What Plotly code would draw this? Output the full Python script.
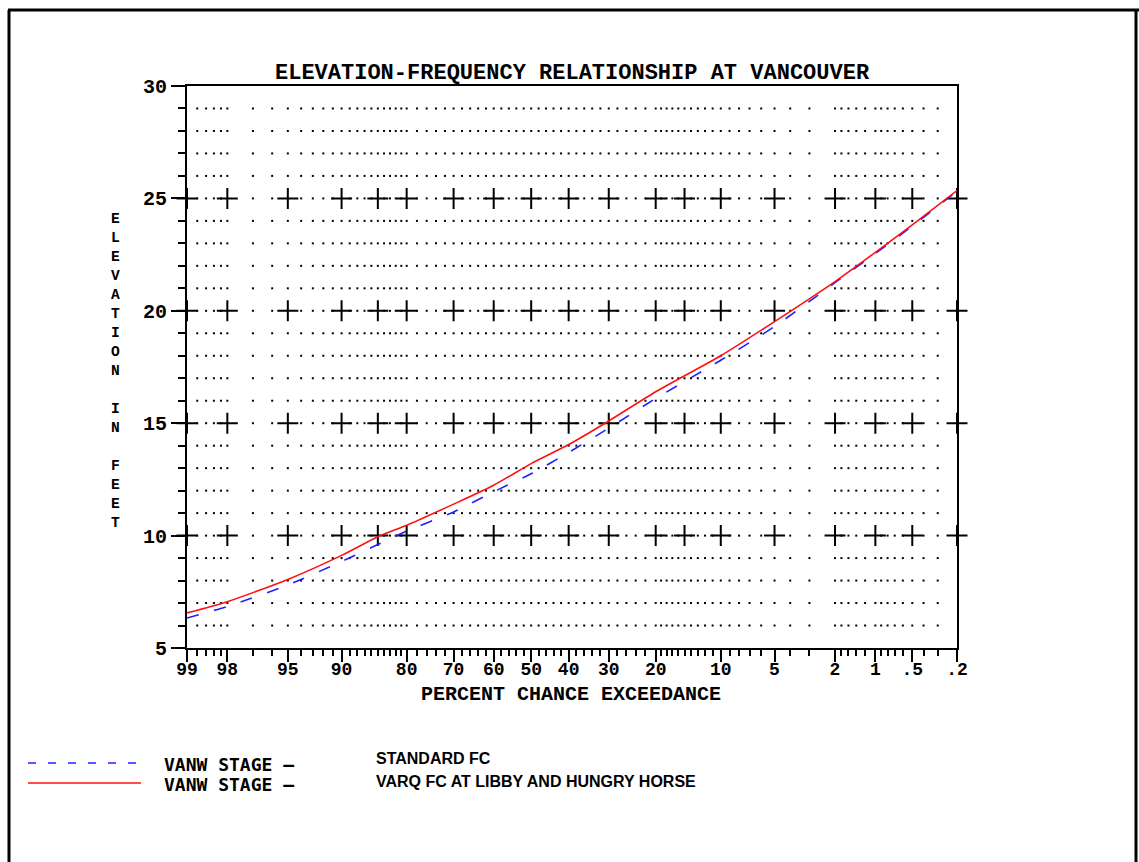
from statistics import NormalDist
import plotly.graph_objects as go

# ---- data -------------------------------------------------------------
exceed_pct = [99, 98, 95, 90, 85, 80, 70, 60, 50, 40, 30, 20, 10, 5, 2, 1, 0.5, 0.2]
standard_fc = [6.33, 6.85, 7.8, 8.85, 9.6, 10.2, 11.05, 11.95, 12.75, 13.7,
               14.78, 16.1, 17.8, 19.3, 21.25, 22.55, 23.77, 25.32]
varq_fc = [6.56, 7.06, 8.05, 9.12, 9.95, 10.46, 11.4, 12.24, 13.2, 14.05,
           15.1, 16.4, 18.0, 19.52, 21.3, 22.6, 23.82, 25.35]

label_pct = [99, 98, 95, 90, 80, 70, 60, 50, 40, 30, 20, 10, 5, 2, 1, 0.5, 0.2]
label_text = ["99", "98", "95", "90", "80", "70", "60", "50", "40", "30",
              "20", "10", "5", "2", "1", ".5", ".2"]
cross_pct = [99, 98, 95, 90, 85, 80, 70, 60, 50, 40, 30, 20, 15, 10, 5, 2, 1, 0.5, 0.2]
minor_pct = ([99, 98.8, 98.6, 98.4, 98.2, 98, 97, 96, 95, 94, 93, 92, 91, 90,
              89, 88, 87, 86, 85, 84, 83, 82, 81, 80]
             + list(range(78, 20, -2))
             + list(range(20, 1, -1))
             + [1.8, 1.6, 1.4, 1.2, 1.0, 0.9, 0.8, 0.7, 0.6, 0.5, 0.4, 0.3, 0.2])
y_major = [5, 10, 15, 20, 25, 30]
y_rows = list(range(6, 30))

title_text = "ELEVATION-FREQUENCY RELATIONSHIP AT VANCOUVER"
x_title = "PERCENT CHANCE EXCEEDANCE"
y_title = "ELEVATION IN FEET"
series_prefix = "VANW STAGE \u2013"
series_names = ["STANDARD FC", "VARQ FC AT LIBBY AND HUNGRY HORSE"]

# ---- normal probability scale ------------------------------------------
_nd = NormalDist()


def prob_pos(p):
    """Standard normal deviate for a percent chance of exceedance."""
    return _nd.inv_cdf(1.0 - p / 100.0)


W, H = 1139, 862
L, R, T, B = 187, 182, 86, 214
PW, PH = W - L - R, H - T - B


def px_x(px):
    return (px - L) / PW


def px_y(py):
    return (H - B - py) / PH


MONO = "Liberation Mono"
BLACK = "black"

fig = go.Figure()

# dotted background grid: a dot at every minor column on each foot,
# a cross at the principal columns on every 5-ft line
dot_x, dot_y, cross_x, cross_y = [], [], [], []
inner_minor = [p for p in minor_pct if p not in (99, 0.2)]
for yv in y_rows:
    if yv % 5 == 0:
        for p in inner_minor:
            if p not in cross_pct:
                dot_x.append(prob_pos(p))
                dot_y.append(yv)
        for p in cross_pct:
            cross_x.append(prob_pos(p))
            cross_y.append(yv)
    else:
        for p in inner_minor:
            dot_x.append(prob_pos(p))
            dot_y.append(yv)

fig.add_trace(go.Scatter(
    x=dot_x, y=dot_y, mode="markers", hoverinfo="skip", showlegend=False,
    marker=dict(symbol="square", size=2, color=BLACK, line=dict(width=0)),
))
fig.add_trace(go.Scatter(
    x=cross_x, y=cross_y, mode="markers", hoverinfo="skip", showlegend=False,
    cliponaxis=False,
    marker=dict(symbol="cross-thin", size=15, color=BLACK,
                line=dict(width=2, color=BLACK)),
))

xs = [prob_pos(p) for p in exceed_pct]
fig.add_trace(go.Scatter(
    x=xs, y=standard_fc, mode="lines", name=series_names[0], showlegend=False,
    line=dict(color="#2020ff", width=1.6, dash="12px,16px", shape="spline", smoothing=0.6),
))
fig.add_trace(go.Scatter(
    x=xs, y=varq_fc, mode="lines", name=series_names[1], showlegend=False,
    line=dict(color="#ff1010", width=1.6, shape="spline", smoothing=0.6),
))

fig.update_xaxes(
    range=[prob_pos(99), prob_pos(0.2)],
    tickmode="array",
    tickvals=[prob_pos(p) for p in label_pct],
    ticktext=label_text,
    ticks="outside", ticklen=12, tickwidth=2, tickcolor=BLACK,
    ticklabelstandoff=-9,
    showline=True, linewidth=2, linecolor=BLACK, mirror=True,
    showgrid=False, zeroline=False,
    tickfont=dict(family=MONO, size=18, color=BLACK, weight="bold"),
    minor=dict(tickmode="array", tickvals=[prob_pos(p) for p in minor_pct],
               ticks="outside", ticklen=6, tickwidth=1.5, tickcolor=BLACK,
               showgrid=False),
)
fig.update_yaxes(
    range=[5, 30],
    tickmode="array", tickvals=y_major, ticktext=[str(v) for v in y_major],
    ticks="outside", ticklen=14, tickwidth=2, tickcolor=BLACK,
    showline=True, linewidth=2, linecolor=BLACK, mirror=True,
    showgrid=False, zeroline=False,
    tickfont=dict(family=MONO, size=20, color=BLACK, weight="bold"),
    minor=dict(dtick=1, tick0=5, ticks="outside", ticklen=7, tickwidth=1.5,
               tickcolor=BLACK, showgrid=False),
)

ann = []
ann.append(dict(text=title_text, x=0.5, y=px_y(73), xref="paper", yref="paper",
                xanchor="center", yanchor="middle", showarrow=False,
                font=dict(family=MONO, size=22, color=BLACK, weight="bold")))
ann.append(dict(text=x_title, x=px_x(571), y=px_y(694), xref="paper", yref="paper",
                xanchor="center", yanchor="middle", showarrow=False,
                font=dict(family=MONO, size=20, color=BLACK, weight="bold")))
# vertical axis title, stacked one letter per line
ann.append(dict(text="<br>".join(ch if ch != " " else "&nbsp;" for ch in y_title),
                x=px_x(115), y=px_y(371), xref="paper", yref="paper",
                xanchor="center", yanchor="middle", align="center", showarrow=False,
                font=dict(family=MONO, size=14.6, color=BLACK, weight="bold")))

# key below the chart
key_rows = [(763, 758, "#2020ff", "dash"), (783, 781, "#ff1010", "solid")]
shapes = []
for (ly, ty, col, dash), name in zip(key_rows, series_names):
    shapes.append(dict(type="line", xref="paper", yref="paper",
                       x0=px_x(28), x1=px_x(141), y0=px_y(ly), y1=px_y(ly),
                       line=dict(color=col, width=1.6,
                                 dash="8px,12px" if dash == "dash" else "solid")))
    ann.append(dict(text=series_prefix, x=px_x(162), y=px_y(ly + 1),
                    xref="paper", yref="paper", xanchor="left", yanchor="middle",
                    showarrow=False,
                    font=dict(family="DejaVu Sans Mono", size=18, color=BLACK,
                              weight="bold")))
    ann.append(dict(text=name, x=px_x(374), y=px_y(ty),
                    xref="paper", yref="paper", xanchor="left", yanchor="middle",
                    showarrow=False,
                    font=dict(family="Liberation Sans", size=16, color=BLACK,
                              weight="bold")))

# page frame
frame = dict(color=BLACK, width=3)
shapes.append(dict(type="line", xref="paper", yref="paper", x0=px_x(8), x1=px_x(1139),
                   y0=px_y(10), y1=px_y(10), line=frame))
shapes.append(dict(type="line", xref="paper", yref="paper", x0=px_x(9), x1=px_x(9),
                   y0=px_y(10), y1=px_y(862), line=frame))
shapes.append(dict(type="line", xref="paper", yref="paper", x0=px_x(1136), x1=px_x(1136),
                   y0=px_y(10), y1=px_y(862), line=frame))

fig.update_layout(
    width=W, height=H,
    margin=dict(l=L, r=R, t=T, b=B, pad=0),
    paper_bgcolor="white", plot_bgcolor="white",
    annotations=ann, shapes=shapes, showlegend=False,
)

fig.write_html("out.html")
